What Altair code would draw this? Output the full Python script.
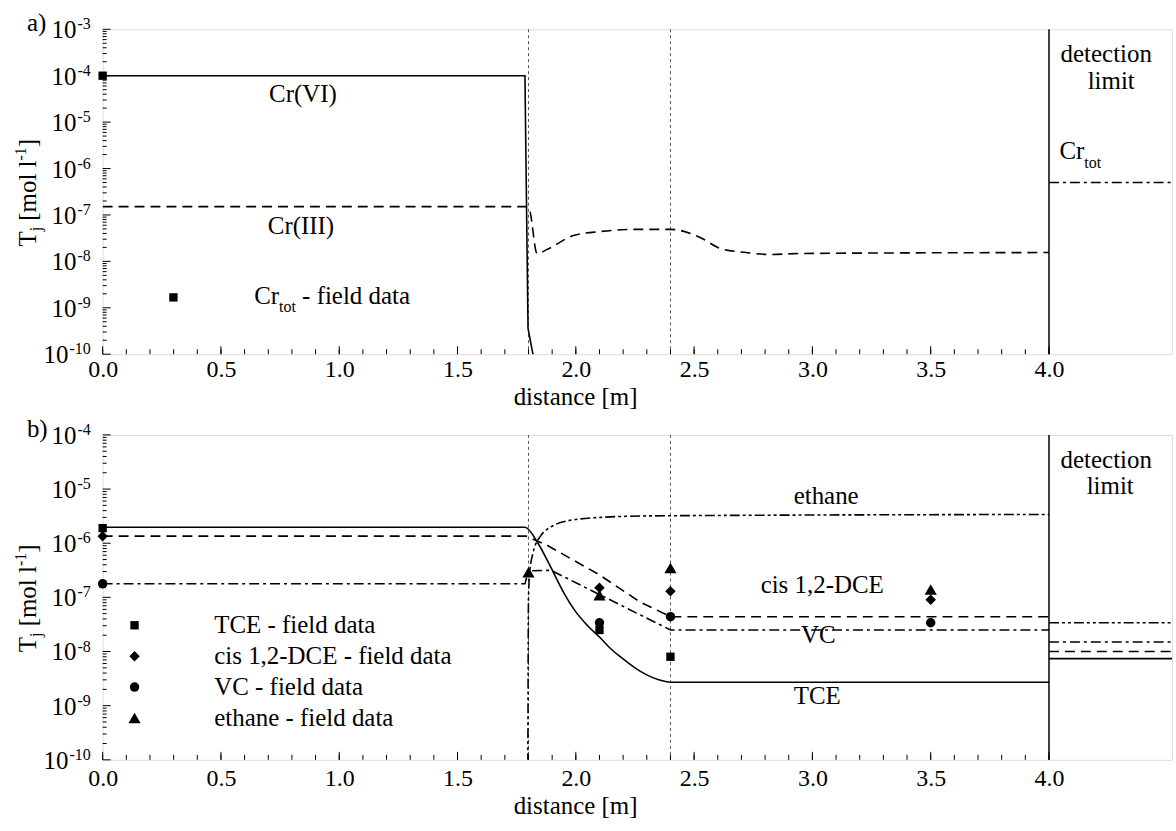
import altair as alt
import pandas as pd

FONT = "Liberation Serif, Times New Roman, serif"
FS = 25          # main text size
FS_TICK = 24     # distance-axis labels
FS_SMALL = 16    # super-/subscript size
W, H = 1073, 326 # plot area of each panel
X_MAX = 4.52     # right edge of the "detection limit" strip
INK = "black"
LW = 1.6

# ---------------- panel a) chromium ----------------
cr6_x = [0.0, 1.785, 1.798, 1.83]
cr6_y = [1.0e-4, 1.0e-4, 3.6e-10, 5.0e-11]

cr3_x = [0.0, 1.785, 1.80, 1.806, 1.836, 1.88, 1.99, 2.105, 2.26, 2.40,
         2.53, 2.61, 2.72, 2.82, 2.95, 4.0]
cr3_y = [1.51e-7, 1.51e-7, 1.45e-7, 1.2e-7, 1.48e-8, 1.82e-8, 3.6e-8, 4.4e-8,
         4.9e-8, 4.9e-8, 3.2e-8, 1.9e-8, 1.55e-8, 1.41e-8, 1.48e-8, 1.55e-8]

crtot_field_x = [0.0]
crtot_field_y = [1.0e-4]
crtot_limit = [5.0e-7]

# ---------------- panel b) chlorinated ethenes ----------------
tce_x = [0.0, 1.785, 1.84, 1.895, 1.95, 2.0, 2.05, 2.1, 2.15, 2.2, 2.25,
         2.3, 2.35, 2.4, 4.0]
tce_y = [1.97e-6, 1.97e-6, 1.0e-6, 3.55e-7, 1.2e-7, 5.4e-8, 3.0e-8, 1.85e-8,
         1.1e-8, 7.3e-9, 5.0e-9, 3.7e-9, 3.0e-9, 2.7e-9, 2.7e-9]

dce_x = [0.0, 1.79, 1.88, 2.1, 2.27, 2.4, 4.0]
dce_y = [1.35e-6, 1.35e-6, 9.1e-7, 2.6e-7, 8.3e-8, 4.4e-8, 4.4e-8]

vc_x = [0.0, 1.785, 1.80, 1.895, 2.4, 4.0]
vc_y = [1.78e-7, 1.78e-7, 3.1e-7, 3.16e-7, 2.5e-8, 2.5e-8]

eth_x = [1.797, 1.80, 1.805, 1.819, 1.853, 1.895, 1.966, 2.105, 2.316, 4.0]
eth_y = [3.0e-11, 1.0e-7, 2.8e-7, 6.6e-7, 1.4e-6, 2.0e-6, 2.6e-6, 3.0e-6,
         3.2e-6, 3.4e-6]

tce_field_x = [0.0, 2.1, 2.4]
tce_field_y = [1.9e-6, 2.5e-8, 8.0e-9]
dce_field_x = [0.0, 2.1, 2.4, 3.5]
dce_field_y = [1.35e-6, 1.5e-7, 1.3e-7, 9.0e-8]
vc_field_x = [0.0, 2.1, 2.4, 3.5]
vc_field_y = [1.78e-7, 3.4e-8, 4.4e-8, 3.4e-8]
eth_field_x = [1.8, 2.1, 2.4, 3.5]
eth_field_y = [2.9e-7, 1.1e-7, 3.5e-7, 1.4e-7]

eth_limit = [3.4e-8]
vc_limit = [1.5e-8]
dce_limit = [1.0e-8]
tce_limit = [7.4e-9]

# zone boundaries and axis ticks
zone_edges = [1.8, 2.4]
x_labels = [0.0, 0.5, 1.0, 1.5, 2.0, 2.5, 3.0, 3.5, 4.0]
x_minor = [round(0.1 * i, 1) for i in range(41)]
decades_a = [1e-10, 1e-9, 1e-8, 1e-7, 1e-6, 1e-5, 1e-4, 1e-3]
exps_a = ["-10", "-9", "-8", "-7", "-6", "-5", "-4", "-3"]
decades_b = [1e-10, 1e-9, 1e-8, 1e-7, 1e-6, 1e-5, 1e-4]
exps_b = ["-10", "-9", "-8", "-7", "-6", "-5", "-4"]

DASHED = [10, 6]
DASH_DOT = [10, 4, 3, 4]
DASH_DOT_DOT = [10, 3, 3, 3, 3, 3]

# approximate advance widths (em) of the serif face, for piecewise labels
EM = {"T": .611, "j": .278, " ": .25, "[": .333, "m": .778, "o": .5,
      "l": .278, "-": .333, "1": .5, "]": .333, "C": .667, "r": .333, "t": .278}


def text_w(s, size):
    return sum(EM.get(c, .5) for c in s) * size


def x_scale():
    return alt.Scale(domain=[0, X_MAX], nice=False, zero=False)


def y_scale(lo, hi):
    return alt.Scale(type="log", domain=[lo, hi], nice=False)


def x_axis(label_pad, title_y):
    return alt.Axis(values=x_labels, format=".1f", labelFont=FONT,
                    labelFontSize=FS_TICK, labelColor=INK,
                    labelPadding=label_pad, labelFlush=False,
                    labelOverlap=False, ticks=False, domain=False, grid=False,
                    title="distance [m]", titleFont=FONT, titleFontSize=FS,
                    titleFontWeight="normal", titleColor=INK, titleX=474,
                    titleY=title_y, titleBaseline="alphabetic",
                    titleAlign="center")


class Panel:
    def __init__(self, ylo, yhi, label_pad, title_y):
        self.xs = x_scale()
        self.ys = y_scale(ylo, yhi)
        self.xa = x_axis(label_pad, title_y)
        self.layers = []

    def X(self, field):
        return alt.X(field, type="quantitative", scale=self.xs, axis=self.xa)

    def Y(self, field):
        return alt.Y(field, type="quantitative", scale=self.ys, axis=None)

    def line(self, xs, ys, dash=None, smooth=False):
        df = pd.DataFrame({"x": xs, "y": ys, "i": list(range(len(xs)))})
        kw = dict(color=INK, strokeWidth=LW, clip=True)
        if dash:
            kw["strokeDash"] = dash
        if smooth:
            kw["interpolate"] = "monotone"
        self.layers.append(alt.Chart(df).mark_line(**kw).encode(
            x=self.X("x"), y=self.Y("y"), order="i:Q"))

    def points(self, xs, ys, shape, size):
        df = pd.DataFrame({"x": xs, "y": ys})
        self.layers.append(alt.Chart(df).mark_point(
            shape=shape, filled=True, color=INK, opacity=1, size=size,
            strokeWidth=0).encode(x=self.X("x"), y=self.Y("y")))

    def limit(self, values, dash=None):
        df = pd.DataFrame({"x": [4.0] * len(values), "x2": [X_MAX] * len(values),
                           "y": values})
        kw = dict(color=INK, strokeWidth=LW)
        if dash:
            kw["strokeDash"] = dash
        self.layers.append(alt.Chart(df).mark_rule(**kw).encode(
            x=self.X("x"), x2="x2:Q", y=self.Y("y")))

    def frame_lines(self):
        # dotted zone boundaries
        df = pd.DataFrame({"x": zone_edges})
        self.layers.append(alt.Chart(df).mark_rule(
            color="#555555", strokeWidth=1, strokeDash=[3, 3]).encode(
            x=self.X("x"), y=alt.value(0), y2=alt.value(H)))
        # border of the detection-limit strip
        df = pd.DataFrame({"x": [4.0]})
        self.layers.append(alt.Chart(df).mark_rule(
            color=INK, strokeWidth=1.5).encode(
            x=self.X("x"), y=alt.value(0), y2=alt.value(H)))
        # inward ticks on the distance axis
        for vals, ln in ((x_minor, 5), (x_labels, 8)):
            df = pd.DataFrame({"x": vals})
            self.layers.append(alt.Chart(df).mark_rule(
                color=INK, strokeWidth=1).encode(
                x=self.X("x"), y=alt.value(H), y2=alt.value(H - ln)))

    def y_ticks(self, decades, exps):
        minor = [m * d for d in decades[:-1] for m in range(2, 10)]
        for vals, ln in ((minor, 4), (decades, 8)):
            df = pd.DataFrame({"y": vals})
            self.layers.append(alt.Chart(df).mark_rule(
                color=INK, strokeWidth=1).encode(
                y=self.Y("y"), x=alt.value(0), x2=alt.value(ln)))
        # "10" with a raised exponent, right-aligned as one unit
        for d, e in zip(decades, exps):
            df = pd.DataFrame({"y": [d], "base": ["10"], "exp": [e]})
            self.layers.append(alt.Chart(df).mark_text(
                font=FONT, fontSize=FS_SMALL, color=INK, align="right",
                baseline="alphabetic").encode(
                y=self.Y("y"), x=alt.value(-12), text="exp:N"))
            self.layers.append(alt.Chart(df).mark_text(
                font=FONT, fontSize=FS, color=INK, align="right",
                baseline="middle", dy=1).encode(
                y=self.Y("y"), x=alt.value(-13 - text_w(e, FS_SMALL)),
                text="base:N"))

    def label(self, txt, x, y, align="center", size=FS, angle=None):
        df = pd.DataFrame({"t": [txt]})
        kw = dict(font=FONT, fontSize=size, color=INK, align=align,
                  baseline="alphabetic")
        if angle is not None:
            kw["angle"] = angle
        self.layers.append(alt.Chart(df).mark_text(**kw).encode(
            x=alt.value(x), y=alt.value(y), text="t:N"))

    def y_title(self, start):
        # T_j [mol l^-1], written bottom-to-top
        y = start
        self.label("T", -67, y, align="left", angle=270)
        y -= text_w("T", FS)
        self.label("j", -62, y, align="left", size=FS_SMALL, angle=270)
        y -= text_w("j", FS_SMALL) + text_w(" ", FS)
        self.label("[mol l", -67, y, align="left", angle=270)
        y -= text_w("[mol l", FS)
        self.label("-1", -77, y, align="left", size=FS_SMALL, angle=270)
        y -= text_w("-1", FS_SMALL)
        self.label("]", -67, y, align="left", angle=270)

    def chart(self):
        return alt.layer(*self.layers).properties(width=W, height=H)


# ---------------- panel a ----------------
a = Panel(1e-10, 1e-3, 3, 50)
a.frame_lines()
a.y_ticks(decades_a, exps_a)
a.line(cr6_x, cr6_y)
a.line(cr3_x, cr3_y, DASHED, smooth=True)
a.points(crtot_field_x, crtot_field_y, "square", 70)
a.limit(crtot_limit, DASH_DOT)
a.label("a)", -76, 2, align="left")
a.label("Cr(VI)", 201, 73)
a.label("Cr(III)", 199, 205)
a.label("detection", 1007, 33)
a.label("limit", 1012, 60)
a.label("Cr", 960, 130, align="left")
a.label("tot", 960 + text_w("Cr", FS), 139, align="left", size=FS_SMALL)
# legend entry for the field data
a.layers.append(alt.Chart(pd.DataFrame({"t": ["s"]})).mark_point(
    shape="square", filled=True, color=INK, opacity=1, size=70,
    strokeWidth=0).encode(x=alt.value(71), y=alt.value(269)))
a.label("Cr", 152, 276, align="left")
a.label("tot", 152 + text_w("Cr", FS), 284, align="left", size=FS_SMALL)
a.label("- field data", 152 + text_w("Cr", FS) + text_w("tot", FS_SMALL)
        + text_w(" ", FS), 276, align="left")
a.y_title(218)

# ---------------- panel b ----------------
b = Panel(1e-10, 1e-4, 7, 54)
b.frame_lines()
b.y_ticks(decades_b, exps_b)
b.line(tce_x, tce_y, smooth=True)
b.line(dce_x, dce_y, DASHED)
b.line(vc_x, vc_y, DASH_DOT)
b.line(eth_x, eth_y, DASH_DOT_DOT, smooth=True)
b.limit(eth_limit, DASH_DOT_DOT)
b.limit(vc_limit, DASH_DOT)
b.limit(dce_limit, DASHED)
b.limit(tce_limit)
b.points(tce_field_x, tce_field_y, "square", 70)
b.points(dce_field_x, dce_field_y, "diamond", 110)
b.points(vc_field_x, vc_field_y, "circle", 90)
b.points(eth_field_x, eth_field_y, "triangle-up", 150)
b.label("b)", -76, 2, align="left")
b.label("detection", 1007, 33)
b.label("limit", 1011, 59)
b.label("ethane", 726, 69)
b.label("cis 1,2-DCE", 722, 159)
b.label("VC", 718, 209)
b.label("TCE", 717, 270)

legend_rows = [("square", 70, "TCE - field data"),
               ("diamond", 110, "cis 1,2-DCE - field data"),
               ("circle", 90, "VC - field data"),
               ("triangle-up", 150, "ethane - field data")]
for k, (shape, size, txt) in enumerate(legend_rows):
    yc = 191 + 31 * k
    b.layers.append(alt.Chart(pd.DataFrame({"t": [txt]})).mark_point(
        shape=shape, filled=True, color=INK, opacity=1, size=size,
        strokeWidth=0).encode(x=alt.value(32), y=alt.value(yc)))
    b.label(txt, 112, yc + 8, align="left")
b.y_title(218)

chart = alt.vconcat(a.chart(), b.chart(), spacing=81, bounds="flush").properties(
    padding={"left": 12, "top": 9, "right": 2, "bottom": 4}
).configure_view(stroke=INK, strokeWidth=1.5).configure(font=FONT)

chart.save("out.html", embed_options={"renderer": "svg", "actions": False})
